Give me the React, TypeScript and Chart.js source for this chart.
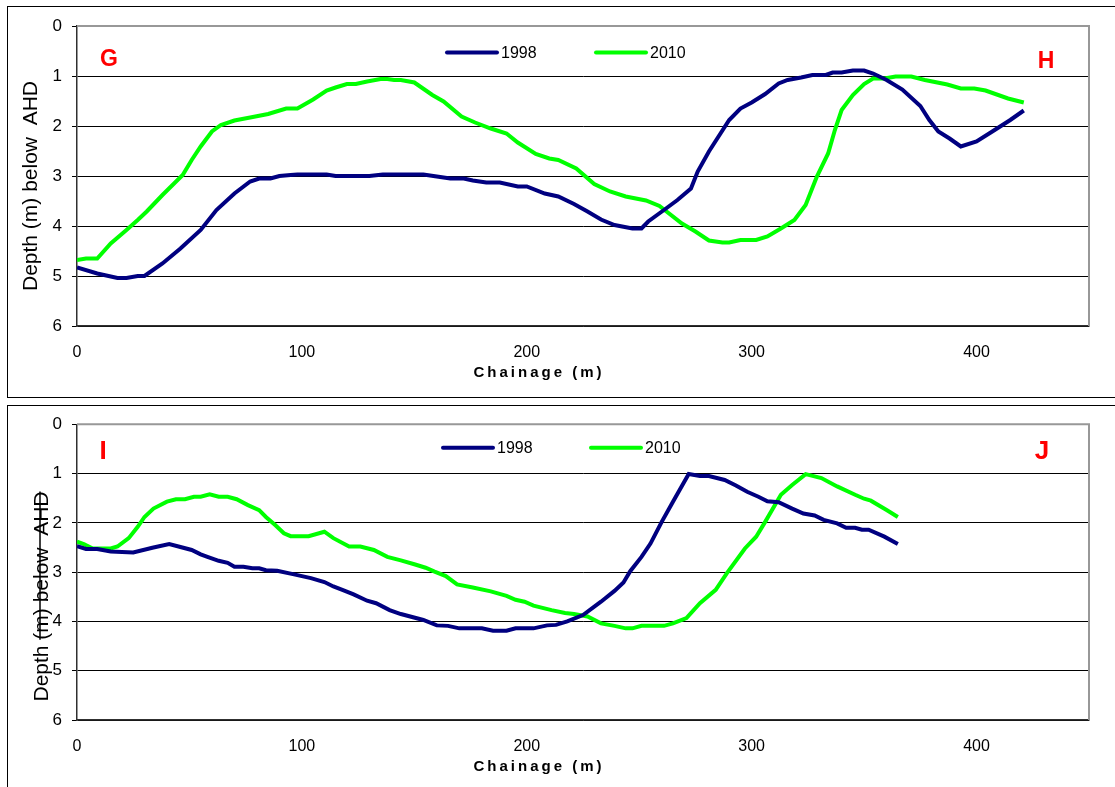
import React, { useEffect, useRef } from 'react';
import { Chart, registerables } from 'chart.js';

Chart.register(...registerables);

const FONT = '"Liberation Sans", Arial, Helvetica, sans-serif';

// ---- shared axes / labels ----
const xTickValues = [0, 100, 200, 300, 400];
const yTickValues = [0, 1, 2, 3, 4, 5, 6];
const seriesLabels = ['1998', '2010'];
const seriesColors = ['#000080', '#00FF00'];
const yTitle = 'Depth (m) below  AHD';
const xTitle = 'Chainage (m)';

// ---- top panel (G - H) ----
const topCh1998 = [0, 9, 18, 22, 27, 30, 38, 46, 55, 62, 70, 77, 81, 86, 90, 95, 98, 111, 115, 130, 136, 144, 154, 160, 166, 172, 176, 182, 188, 196, 200, 208, 214, 221, 227, 233, 239, 247, 251, 254, 261, 267, 273, 276, 281, 290, 295, 300, 306, 312, 316, 322, 327, 333, 336, 340, 345, 350, 354, 360, 367, 375, 379, 383, 388, 393, 400, 407, 415, 421];
const topDepth1998 = [4.83, 4.95, 5.04, 5.04, 5.0, 5.0, 4.75, 4.45, 4.08, 3.68, 3.35, 3.11, 3.05, 3.05, 3.0, 2.98, 2.97, 2.97, 3.0, 3.0, 2.97, 2.97, 2.97, 3.01, 3.05, 3.05, 3.09, 3.13, 3.13, 3.21, 3.21, 3.35, 3.41, 3.56, 3.71, 3.87, 3.98, 4.05, 4.05, 3.91, 3.68, 3.48, 3.25, 2.91, 2.51, 1.88, 1.65, 1.53, 1.36, 1.15, 1.08, 1.03, 0.98, 0.98, 0.93, 0.93, 0.89, 0.89, 0.95, 1.08, 1.27, 1.6, 1.88, 2.11, 2.25, 2.41, 2.31, 2.11, 1.88, 1.69];
const topCh2010 = [0, 4, 9, 15, 22, 27, 31, 38, 47, 51, 55, 60, 64, 70, 77, 85, 93, 98, 105, 111, 115, 120, 124, 129, 135, 138, 141, 144, 150, 158, 163, 171, 177, 184, 191, 196, 204, 210, 214, 222, 230, 237, 244, 253, 259, 269, 275, 281, 287, 290, 295, 302, 307, 313, 319, 324, 329, 334, 337, 340, 345, 350, 354, 359, 364, 371, 377, 387, 393, 399, 404, 414, 421];
const topDepth2010 = [4.68, 4.65, 4.65, 4.35, 4.08, 3.88, 3.71, 3.38, 2.98, 2.68, 2.41, 2.11, 1.98, 1.89, 1.83, 1.76, 1.65, 1.65, 1.47, 1.29, 1.23, 1.16, 1.16, 1.11, 1.06, 1.06, 1.08, 1.08, 1.13, 1.38, 1.51, 1.81, 1.93, 2.05, 2.15, 2.33, 2.56, 2.65, 2.68, 2.85, 3.16, 3.31, 3.41, 3.49, 3.6, 3.95, 4.11, 4.29, 4.33, 4.33, 4.28, 4.28, 4.21, 4.05, 3.88, 3.58, 3.01, 2.55, 2.08, 1.68, 1.38, 1.16, 1.05, 1.05, 1.01, 1.01, 1.08, 1.17, 1.25, 1.25, 1.29, 1.45, 1.53];

// ---- bottom panel (I - J) ----
const botCh1998 = [0, 4, 9, 15, 25, 34, 41, 46, 51, 55, 58, 63, 67, 70, 74, 78, 81, 84, 89, 96, 104, 110, 114, 118, 123, 129, 133, 139, 144, 154, 160, 165, 170, 180, 185, 191, 195, 203, 209, 213, 218, 225, 233, 239, 243, 246, 251, 255, 260, 265, 272, 277, 281, 288, 293, 298, 303, 307, 312, 318, 323, 328, 332, 338, 342, 346, 349, 352, 359, 365];
const botDepth1998 = [2.47, 2.53, 2.53, 2.58, 2.6, 2.5, 2.43, 2.49, 2.55, 2.64, 2.69, 2.77, 2.81, 2.89, 2.89, 2.92, 2.92, 2.96, 2.97, 3.04, 3.12, 3.2, 3.29, 3.36, 3.45, 3.58, 3.63, 3.77, 3.85, 3.97, 4.08, 4.09, 4.14, 4.14, 4.19, 4.19, 4.14, 4.14, 4.08, 4.07, 4.0, 3.87, 3.6, 3.38, 3.21, 2.98, 2.69, 2.42, 1.98, 1.57, 1.01, 1.05, 1.05, 1.13, 1.24, 1.37, 1.47, 1.56, 1.58, 1.71, 1.81, 1.85, 1.94, 2.01, 2.1, 2.1, 2.14, 2.14, 2.28, 2.43];
const botCh2010 = [0, 3, 7, 15, 18, 23, 27, 30, 34, 40, 44, 48, 52, 55, 59, 63, 67, 71, 76, 81, 84, 88, 92, 95, 103, 110, 114, 121, 126, 132, 138, 144, 150, 155, 159, 164, 169, 176, 184, 191, 195, 199, 203, 211, 217, 221, 227, 233, 239, 244, 247, 251, 261, 265, 271, 277, 284, 289, 297, 302, 306, 313, 318, 324, 331, 338, 346, 350, 353, 360, 365];
const botDepth2010 = [2.38, 2.43, 2.52, 2.52, 2.48, 2.31, 2.08, 1.88, 1.71, 1.57, 1.52, 1.52, 1.47, 1.47, 1.42, 1.47, 1.47, 1.52, 1.64, 1.74, 1.88, 2.04, 2.21, 2.27, 2.27, 2.18, 2.31, 2.48, 2.48, 2.55, 2.69, 2.76, 2.84, 2.91, 2.99, 3.08, 3.25, 3.31, 3.39, 3.48, 3.56, 3.6, 3.68, 3.77, 3.83, 3.85, 3.9, 4.04, 4.09, 4.14, 4.14, 4.09, 4.09, 4.04, 3.93, 3.63, 3.36, 3.02, 2.52, 2.28, 1.98, 1.43, 1.23, 1.01, 1.09, 1.26, 1.43, 1.51, 1.55, 1.74, 1.88];

const topMarkers = ['G', 'H'];
const botMarkers = ['I', 'J'];

type Layout = {
  canvasTop: number;
  canvasHeight: number;
  plotTop: number;
  plotBottom: number;
  titleBaseX: number;
  titleCenterY: number;
  strike: boolean;
  legendXs: number[];
  legendY: number;
  markerPos: { x: number; y: number; size: number }[];
  xTitleX: number;
  xTitleY: number;
};

const topLayout: Layout = {
  canvasTop: 0,
  canvasHeight: 400,
  plotTop: 26,
  plotBottom: 326,
  titleBaseX: 37,
  titleCenterY: 186,
  strike: false,
  legendXs: [447, 596],
  legendY: 52.5,
  markerPos: [
    { x: 109, y: 60, size: 23 },
    { x: 1046, y: 62, size: 23 },
  ],
  xTitleX: 539,
  xTitleY: 373,
};

const botLayout: Layout = {
  canvasTop: 400,
  canvasHeight: 387,
  plotTop: 24.3,
  plotBottom: 320,
  titleBaseX: 48,
  titleCenterY: 196.5,
  strike: true,
  legendXs: [443, 591],
  legendY: 47.7,
  markerPos: [
    { x: 103, y: 52, size: 26 },
    { x: 1042, y: 52, size: 26 },
  ],
  xTitleX: 539,
  xTitleY: 367,
};

function toPoints(xs: number[], ys: number[]) {
  return xs.map((x, i) => ({ x, y: ys[i] }));
}

function Panel(props: {
  layout: Layout;
  ch1998: number[];
  d1998: number[];
  ch2010: number[];
  d2010: number[];
  markers: string[];
}) {
  const ref = useRef<HTMLCanvasElement | null>(null);
  const { layout, ch1998, d1998, ch2010, d2010, markers } = props;

  useEffect(() => {
    if (!ref.current) return;
    const L = layout;
    const decor = {
      id: 'decor',
      afterDraw(chart: any) {
        const ctx = chart.ctx as CanvasRenderingContext2D;
        const a = chart.chartArea;
        ctx.save();
        // plot area frame (top & right, grey)
        ctx.strokeStyle = '#989898';
        ctx.lineWidth = 2;
        ctx.beginPath();
        ctx.moveTo(a.left, a.top);
        ctx.lineTo(a.right, a.top);
        ctx.lineTo(a.right, a.bottom);
        ctx.stroke();

        // legend
        ctx.font = `16px ${FONT}`;
        ctx.textBaseline = 'middle';
        ctx.textAlign = 'left';
        chart.data.datasets.forEach((ds: any, i: number) => {
          const lx = L.legendXs[i];
          ctx.strokeStyle = ds.borderColor;
          ctx.lineWidth = 4;
          ctx.lineCap = 'round';
          ctx.beginPath();
          ctx.moveTo(lx, L.legendY);
          ctx.lineTo(lx + 50, L.legendY);
          ctx.stroke();
          ctx.fillStyle = '#000';
          ctx.fillText(ds.label, lx + 54, L.legendY + 1);
        });
        ctx.lineCap = 'butt';

        // y-axis title (rotated)
        ctx.save();
        ctx.translate(L.titleBaseX, L.titleCenterY);
        ctx.rotate(-Math.PI / 2);
        ctx.font = `21px ${FONT}`;
        ctx.textAlign = 'center';
        ctx.textBaseline = 'alphabetic';
        ctx.fillStyle = '#000';
        ctx.fillText(yTitle, 0, 0);
        if (L.strike) {
          const w = ctx.measureText(yTitle).width;
          const pre = ctx.measureText('Depth ').width;
          ctx.strokeStyle = '#000';
          ctx.lineWidth = 1.5;
          ctx.beginPath();
          ctx.moveTo(-w / 2 + pre, -8);
          ctx.lineTo(w / 2, -8);
          ctx.stroke();
        }
        ctx.restore();

        // x-axis title
        ctx.font = `bold 15px ${FONT}`;
        (ctx as any).letterSpacing = '3px';
        ctx.textAlign = 'center';
        ctx.textBaseline = 'middle';
        ctx.fillStyle = '#000';
        ctx.fillText(xTitle, L.xTitleX, L.xTitleY);
        (ctx as any).letterSpacing = '0px';

        // section markers
        ctx.fillStyle = '#FF0000';
        markers.forEach((m, i) => {
          const p = L.markerPos[i];
          ctx.font = `bold ${p.size}px ${FONT}`;
          ctx.textAlign = 'center';
          ctx.textBaseline = 'middle';
          ctx.fillText(m, p.x, p.y);
        });
        ctx.restore();
      },
    };

    const chart = new Chart(ref.current, {
      type: 'line',
      data: {
        datasets: [
          {
            label: seriesLabels[0],
            data: toPoints(ch1998, d1998),
            borderColor: seriesColors[0],
            backgroundColor: seriesColors[0],
            borderWidth: 4,
            pointRadius: 0,
            tension: 0,
            fill: false,
          },
          {
            label: seriesLabels[1],
            data: toPoints(ch2010, d2010),
            borderColor: seriesColors[1],
            backgroundColor: seriesColors[1],
            borderWidth: 4,
            pointRadius: 0,
            tension: 0,
            fill: false,
          },
        ],
      },
      options: {
        animation: false,
        responsive: false,
        devicePixelRatio: 1,
        layout: { padding: { top: L.plotTop, right: 26, bottom: 0, left: 0 } },
        plugins: {
          legend: { display: false },
          title: { display: false },
          tooltip: { enabled: false },
        },
        scales: {
          x: {
            type: 'linear',
            min: 0,
            max: 450,
            afterBuildTicks: (s: any) => {
              s.ticks = xTickValues.map((v) => ({ value: v }));
            },
            ticks: {
              font: { family: FONT, size: 16 },
              color: '#000',
              padding: 17,
              maxRotation: 0,
            },
            grid: { display: false, drawTicks: false },
            border: { display: true, color: '#303030', width: 1.5 },
            afterFit: (s: any) => {
              s.height = L.canvasHeight - L.plotBottom;
            },
          },
          y: {
            type: 'linear',
            reverse: true,
            min: 0,
            max: 6,
            afterBuildTicks: (s: any) => {
              s.ticks = yTickValues.map((v) => ({ value: v }));
            },
            ticks: {
              font: { family: FONT, size: 17 },
              color: '#000',
              padding: 10,
            },
            grid: {
              color: (c: any) => (c.tick && c.tick.value === 0 ? 'rgba(0,0,0,0)' : '#000'),
              tickColor: '#000',
              tickLength: 5,
              lineWidth: 1,
              drawTicks: true,
            },
            border: { display: true, color: '#303030', width: 1.5 },
            afterFit: (s: any) => {
              s.width = 77;
            },
          },
        },
      },
      plugins: [decor],
    } as any);
    return () => chart.destroy();
  }, []);

  return (
    <canvas
      ref={ref}
      width={1115}
      height={layout.canvasHeight}
      style={{
        position: 'absolute',
        left: 0,
        top: layout.canvasTop,
        width: 1115,
        height: layout.canvasHeight,
      }}
    />
  );
}

export default function App() {
  return (
    <div
      style={{
        position: 'absolute',
        left: 0,
        top: 0,
        width: 1115,
        height: 787,
        overflow: 'hidden',
        background: '#fff',
      }}
    >
      <div
        style={{
          position: 'absolute',
          left: 7,
          top: 6,
          width: 1200,
          height: 390,
          border: '1px solid #000',
        }}
      />
      <div
        style={{
          position: 'absolute',
          left: 7,
          top: 405,
          width: 1200,
          height: 500,
          border: '1px solid #000',
        }}
      />
      <Panel
        layout={topLayout}
        ch1998={topCh1998}
        d1998={topDepth1998}
        ch2010={topCh2010}
        d2010={topDepth2010}
        markers={topMarkers}
      />
      <Panel
        layout={botLayout}
        ch1998={botCh1998}
        d1998={botDepth1998}
        ch2010={botCh2010}
        d2010={botDepth2010}
        markers={botMarkers}
      />
    </div>
  );
}
